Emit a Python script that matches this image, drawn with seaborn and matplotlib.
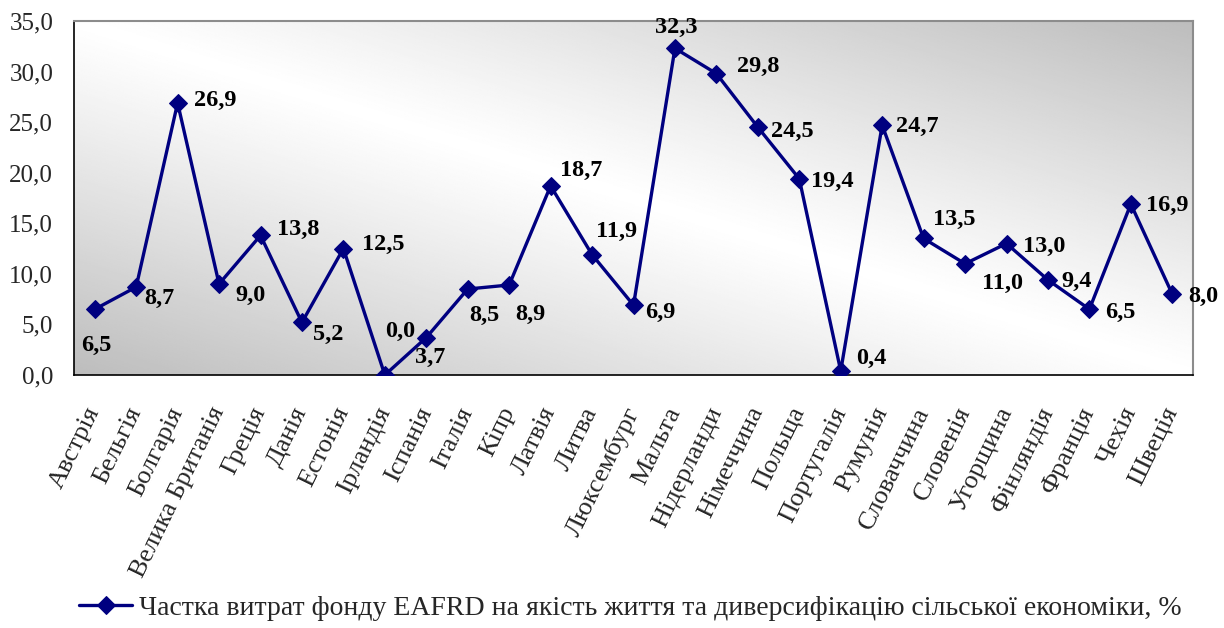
import numpy as np
import pandas as pd
import matplotlib
matplotlib.use("Agg")
import matplotlib.pyplot as plt
import seaborn as sns
from matplotlib.ticker import FuncFormatter

countries = ["Австрія", "Бельгія", "Болгарія", "Велика Британія", "Греція", "Данія",
             "Естонія", "Ірландія", "Іспанія", "Італія", "Кіпр", "Латвія", "Литва",
             "Люксембург", "Мальта", "Нідерланди", "Німеччина", "Польща", "Португалія",
             "Румунія", "Словаччина", "Словенія", "Угорщина", "Фінляндія", "Франція",
             "Чехія", "Швеція"]
share = [6.5, 8.7, 26.9, 9.0, 13.8, 5.2, 12.5, 0.0, 3.7, 8.5, 8.9, 18.7, 11.9,
         6.9, 32.3, 29.8, 24.5, 19.4, 0.4, 24.7, 13.5, 11.0, 13.0, 9.4, 6.5,
         16.9, 8.0]
series_name = "Частка витрат фонду EAFRD на якість життя та диверсифікацію сільської економіки, %"

# label offsets in points (dx, dy) from each marker to the label centre
label_offsets = [(1, -26), (17, -8), (27, 2), (23, -8), (27, 4), (19, -9),
                 (29, 3), (11, 31), (3, -14), (12, -19), (15, -21), (22, 11),
                 (18, 17), (19, -5), (1, 15), (30, 5), (25, -3), (24, -2),
                 (22, 9), (25, -1), (22, 14), (27, -14), (27, -2), (21, -1),
                 (22, -2), (26, -1), (22, -2)]

sns.set_style("white")
plt.rcParams['font.family'] = ['Liberation Serif', 'DejaVu Serif']
serif = ['Liberation Serif', 'DejaVu Serif']

df = pd.DataFrame({"pos": np.arange(len(countries)) + 0.5, "value": share})

fig = plt.figure(figsize=(12.24, 6.28), dpi=100)
ax = fig.add_axes([74 / 1224, 1 - 375 / 628, (1193 - 74) / 1224, (375 - 21) / 628])

# diagonal grey gradient background
u, v = np.meshgrid(np.linspace(0, 1, 300), np.linspace(0, 1, 300))
d = np.abs(u + v - 1)
shade = 1 - 0.26 * d ** 1.1
ax.imshow(shade, cmap="gray", vmin=0, vmax=1, extent=(0, 1, 0, 1), origin="lower",
          transform=ax.transAxes, aspect="auto", zorder=0, interpolation="bilinear")

sns.lineplot(data=df, x="pos", y="value", ax=ax, color="#000080", linewidth=2.4,
             marker="D", markersize=9, markeredgecolor="#000080", label=series_name,
             zorder=3)

for x, y, (dx, dy) in zip(df["pos"], df["value"], label_offsets):
    ax.annotate(f"{y:.1f}".replace(".", ","), (x, y), xytext=(dx, dy),
                textcoords="offset points", ha="center", va="center",
                fontsize=17.5, fontweight="bold", color="black", zorder=4, family=serif)

ax.set_xlim(0, len(countries))
ax.set_ylim(0, 35)
ax.set_xticks(np.arange(len(countries) + 1))
ax.set_xticklabels([])
ax.set_xticks(df["pos"], minor=True)
ax.set_xticklabels(countries, minor=True, rotation=64, ha="right", va="center",
                   rotation_mode="anchor", fontsize=19, family=serif)
ax.tick_params(axis="x", which="major", direction="out", length=7, width=1, color="black")
ax.tick_params(axis="x", which="minor", length=0, pad=24)
ax.set_yticks(np.arange(0, 36, 5))
ax.yaxis.set_major_formatter(FuncFormatter(lambda v, p: f"{v:.1f}".replace(".", ",")))
ax.tick_params(axis="y", direction="out", length=7, width=1, color="black", labelsize=18, pad=8)
for t in ax.get_yticklabels():
    t.set_family(serif)
ax.set_xlabel("")
ax.set_ylabel("")

for side in ["left", "bottom"]:
    ax.spines[side].set_color("black")
    ax.spines[side].set_linewidth(1.2)
for side in ["top", "right"]:
    ax.spines[side].set_color("#8c8c8c")
    ax.spines[side].set_linewidth(1.5)

ax.legend(loc="center", bbox_to_anchor=(0.515, 1 - 608 / 628), bbox_transform=fig.transFigure,
          frameon=False, prop={"family": serif, "size": 20}, handlelength=1.9,
          handletextpad=0.25)

fig.savefig("out.png", dpi=100)
